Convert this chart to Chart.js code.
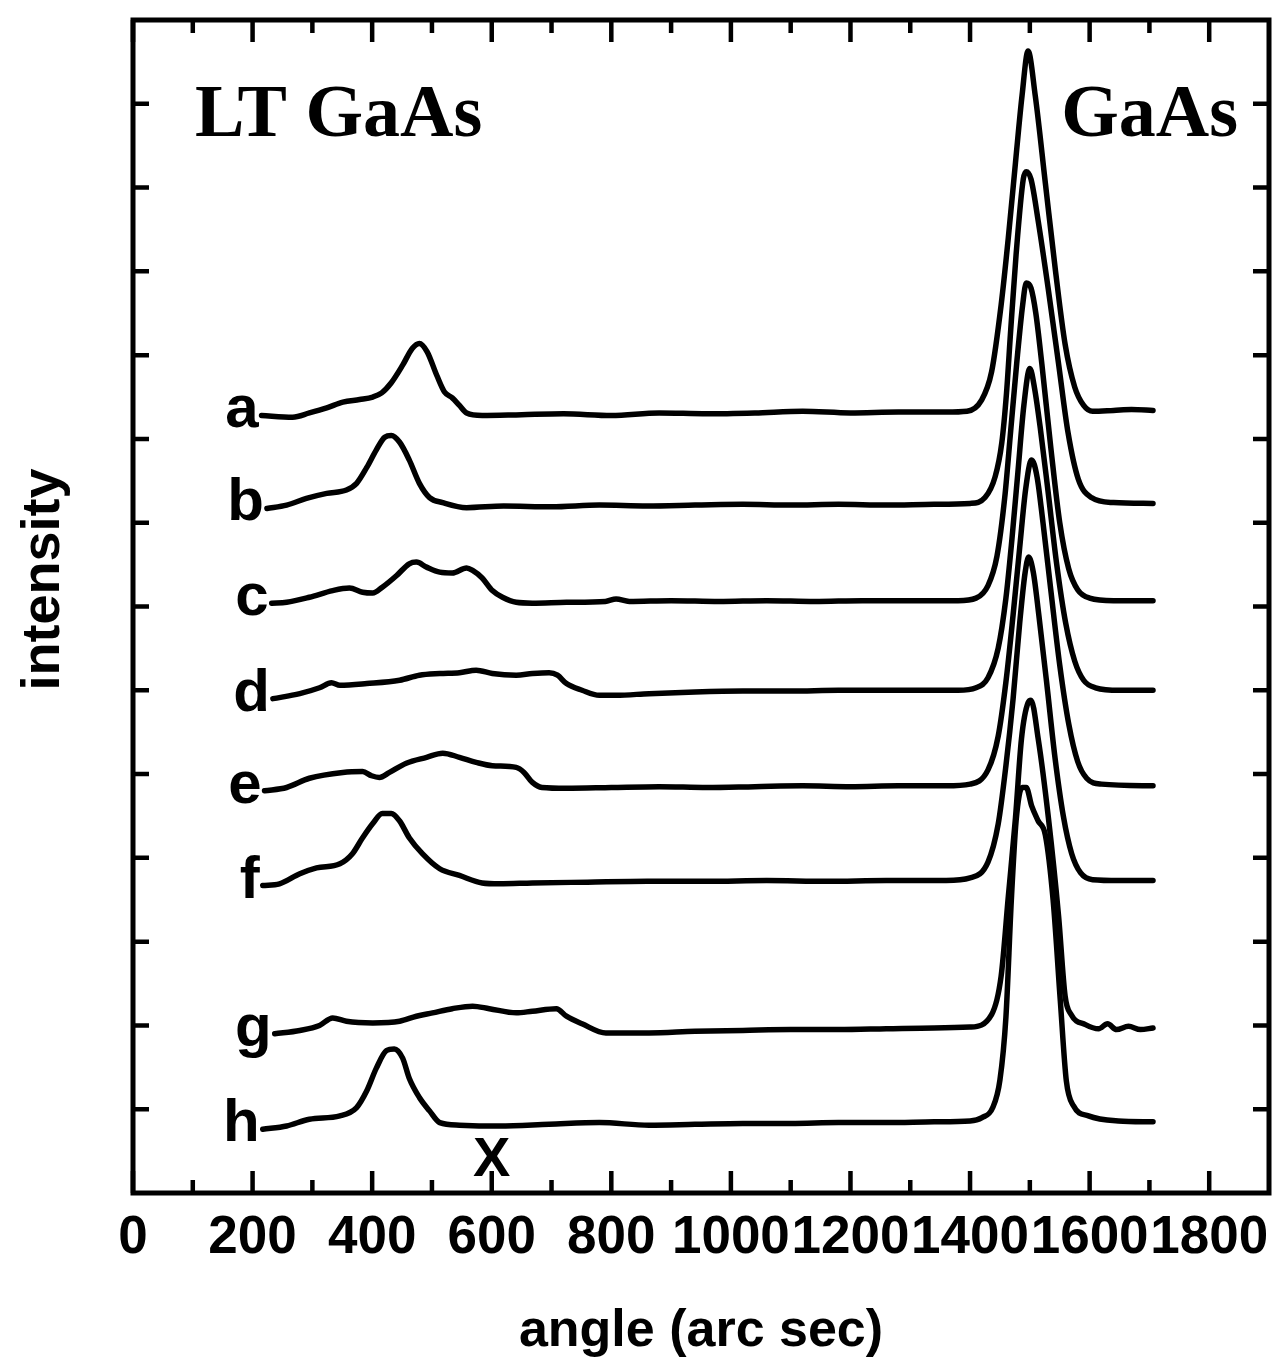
<!DOCTYPE html>
<html>
<head>
<meta charset="utf-8">
<script src="https://cdn.jsdelivr.net/npm/chart.js@4.4.1/dist/chart.umd.min.js"></script>
<style>
  html, body { margin: 0; padding: 0; background: #fff; }
  #wrap { width: 1284px; height: 1372px; position: relative; }
</style>
</head>
<body>
<div id="wrap"><canvas id="xrd"></canvas></div>
<script>
// Stacked X-ray rocking curves, LT GaAs layer peak vs GaAs substrate peak.
// Each curve is [angle (arc sec), intensity offset].

const curveNames = ['a', 'b', 'c', 'd', 'e', 'f', 'g', 'h'];

const curveA = [[215,9.28],[267,9.26],[295,9.31],[324,9.37],[351,9.44],[379,9.47],[401,9.50],[416,9.55],[432,9.67],[451,9.88],[467,10.08],[479,10.14],[492,10.04],[508,9.76],[521,9.56],[534,9.49],[546,9.40],[558,9.31],[584,9.28],[650,9.29],[720,9.30],[800,9.28],[880,9.31],[960,9.30],[1040,9.31],[1120,9.33],[1200,9.31],[1280,9.32],[1360,9.32],[1395,9.33],[1419,9.46],[1436,9.80],[1452,10.6],[1464,11.4],[1476,12.3],[1487,13.1],[1497,13.63],[1509,13.1],[1526,12.05],[1543,11.0],[1559,10.13],[1575,9.62],[1590,9.40],[1605,9.33],[1640,9.34],[1670,9.35],[1706,9.34]];
const curveB = [[224,8.17],[257,8.21],[290,8.29],[324,8.35],[357,8.39],[374,8.47],[391,8.66],[407,8.87],[421,9.02],[432,9.04],[446,8.96],[462,8.75],[479,8.47],[496,8.30],[518,8.24],[558,8.18],[620,8.20],[700,8.19],[780,8.21],[860,8.20],[940,8.21],[1020,8.22],[1100,8.21],[1180,8.22],[1260,8.21],[1340,8.22],[1400,8.23],[1425,8.30],[1442,8.55],[1453,8.95],[1461,9.55],[1468,10.3],[1477,11.2],[1489,12.1],[1494,12.19],[1502,12.1],[1514,11.6],[1531,10.78],[1548,9.9],[1564,9.07],[1581,8.52],[1603,8.30],[1640,8.24],[1706,8.23]];
const curveC = [[232,7.04],[257,7.05],[295,7.11],[334,7.19],[362,7.22],[384,7.17],[401,7.16],[417,7.23],[441,7.37],[462,7.51],[474,7.53],[491,7.47],[513,7.41],[534,7.40],[558,7.46],[568,7.43],[584,7.34],[601,7.19],[618,7.11],[641,7.05],[668,7.04],[725,7.05],[790,7.06],[808,7.09],[830,7.06],[900,7.07],[980,7.06],[1060,7.07],[1140,7.06],[1220,7.07],[1300,7.07],[1380,7.07],[1410,7.10],[1430,7.25],[1445,7.6],[1458,8.3],[1468,9.1],[1478,9.9],[1488,10.6],[1494,10.86],[1502,10.8],[1510,10.5],[1520,9.9],[1535,8.9],[1550,8.0],[1565,7.45],[1580,7.2],[1600,7.1],[1640,7.07],[1706,7.07]];
const curveD = [[234,5.90],[279,5.96],[312,6.03],[332,6.09],[346,6.06],[391,6.08],[446,6.12],[479,6.18],[513,6.20],[546,6.21],[574,6.24],[601,6.20],[641,6.18],[668,6.20],[696,6.21],[710,6.18],[725,6.08],[751,6.00],[780,5.94],[808,5.94],[863,5.96],[940,5.98],[1020,5.99],[1100,5.99],[1180,6.0],[1260,6.0],[1340,6.0],[1380,6.0],[1410,6.03],[1430,6.15],[1447,6.5],[1460,7.1],[1470,7.8],[1480,8.6],[1490,9.4],[1500,9.84],[1508,9.6],[1518,9.1],[1530,8.4],[1545,7.5],[1560,6.8],[1575,6.35],[1590,6.12],[1610,6.03],[1650,6.0],[1706,6.0]];
const curveE = [[220,4.80],[257,4.84],[295,4.95],[351,5.02],[384,5.03],[399,4.98],[412,4.96],[429,5.02],[457,5.13],[491,5.20],[518,5.25],[546,5.20],[574,5.14],[601,5.10],[641,5.08],[654,5.02],[668,4.90],[684,4.84],[725,4.83],[800,4.84],[880,4.85],[960,4.84],[1040,4.85],[1120,4.86],[1200,4.85],[1280,4.86],[1360,4.86],[1400,4.88],[1430,5.05],[1447,5.45],[1460,6.1],[1472,6.9],[1483,7.7],[1493,8.4],[1503,8.75],[1512,8.55],[1522,8.0],[1535,7.2],[1550,6.3],[1565,5.6],[1580,5.15],[1595,4.95],[1620,4.88],[1706,4.86]];
const curveF = [[217,3.67],[245,3.69],[279,3.81],[307,3.88],[346,3.93],[367,4.05],[384,4.24],[401,4.41],[417,4.53],[432,4.53],[446,4.44],[462,4.24],[484,4.05],[513,3.87],[546,3.79],[584,3.70],[613,3.69],[668,3.70],[760,3.71],[860,3.72],[960,3.72],[1060,3.73],[1160,3.72],[1260,3.73],[1360,3.73],[1400,3.76],[1430,3.95],[1447,4.4],[1460,5.1],[1472,5.9],[1483,6.8],[1492,7.4],[1498,7.59],[1506,7.4],[1515,6.9],[1528,6.1],[1542,5.2],[1556,4.5],[1570,4.05],[1585,3.82],[1605,3.74],[1650,3.73],[1706,3.73]];
const curveG = [[237,1.90],[279,1.94],[312,2.00],[334,2.09],[357,2.05],[401,2.03],[446,2.05],[474,2.11],[501,2.15],[534,2.20],[568,2.23],[596,2.20],[641,2.15],[668,2.17],[708,2.20],[725,2.11],[751,2.02],[791,1.91],[863,1.91],[940,1.93],[1020,1.94],[1100,1.95],[1180,1.95],[1260,1.96],[1340,1.97],[1400,1.98],[1436,2.13],[1452,2.59],[1464,3.54],[1476,4.48],[1486,5.42],[1497,5.85],[1502,5.88],[1514,5.42],[1531,4.48],[1548,3.31],[1559,2.35],[1569,2.13],[1593,2.01],[1615,1.96],[1630,2.02],[1645,1.95],[1665,1.99],[1685,1.95],[1706,1.97]];
const curveH = [[217,0.76],[257,0.80],[295,0.88],[346,0.92],[374,1.02],[391,1.22],[407,1.49],[424,1.70],[437,1.72],[451,1.61],[462,1.37],[479,1.14],[496,0.98],[513,0.84],[546,0.81],[613,0.80],[696,0.82],[780,0.84],[863,0.81],[940,0.82],[1020,0.83],[1100,0.83],[1180,0.84],[1260,0.84],[1340,0.85],[1400,0.86],[1420,0.90],[1438,1.02],[1450,1.35],[1460,2.1],[1469,3.49],[1477,4.44],[1487,4.84],[1494,4.84],[1503,4.62],[1514,4.44],[1526,4.27],[1539,3.49],[1551,2.29],[1561,1.34],[1573,1.04],[1598,0.92],[1648,0.86],[1706,0.85]];

const curves = [curveA, curveB, curveC, curveD, curveE, curveF, curveG, curveH];

// axis ticks
const xMajorTicks = [0, 200, 400, 600, 800, 1000, 1200, 1400, 1600, 1800];
const xMinorTicks = [100, 300, 500, 700, 900, 1100, 1300, 1500, 1700];
const yTicks = [1, 2, 3, 4, 5, 6, 7, 8, 9, 10, 11, 12, 13];
const markedAngle = 600; // the "X" under curve h

const SANS = '"Liberation Sans", Arial, sans-serif';
const SERIF = '"Liberation Serif", "Times New Roman", serif';

// box frame, inward ticks on all four sides, and the text annotations
const framePlugin = {
  id: 'frame',
  afterDatasetsDraw(chart) {
    const { ctx, chartArea: a, scales: { x, y } } = chart;
    ctx.save();
    ctx.strokeStyle = '#000';
    ctx.fillStyle = '#000';
    ctx.lineWidth = 5;
    ctx.strokeRect(a.left, a.top, a.right - a.left, a.bottom - a.top);

    ctx.lineWidth = 4.5;
    ctx.beginPath();
    const xTick = (v, len) => {
      const px = x.getPixelForValue(v);
      ctx.moveTo(px, a.bottom); ctx.lineTo(px, a.bottom - len);
      ctx.moveTo(px, a.top); ctx.lineTo(px, a.top + len);
    };
    xMajorTicks.forEach((v) => xTick(v, 22));
    xMinorTicks.forEach((v) => xTick(v, 13));
    yTicks.forEach((v) => {
      const py = y.getPixelForValue(v);
      ctx.moveTo(a.left, py); ctx.lineTo(a.left + 16, py);
      ctx.moveTo(a.right, py); ctx.lineTo(a.right - 16, py);
    });
    ctx.stroke();

    // curve letters, just left of each trace start
    ctx.font = `bold 60px ${SANS}`;
    ctx.textAlign = 'right';
    ctx.textBaseline = 'alphabetic';
    curves.forEach((pts, i) => {
      const px = x.getPixelForValue(pts[0][0]);
      const py = y.getPixelForValue(pts[0][1]);
      ctx.fillText(curveNames[i], px - 3, py + 12);
    });

    // marker on the axis
    ctx.font = `bold 56px ${SANS}`;
    ctx.textAlign = 'center';
    ctx.textBaseline = 'middle';
    ctx.fillText('X', x.getPixelForValue(markedAngle), a.bottom - 32);

    // peak labels
    ctx.font = `bold 74px ${SERIF}`;
    ctx.textBaseline = 'alphabetic';
    ctx.textAlign = 'left';
    ctx.fillText('LT GaAs', a.left + 62, a.top + 116);
    ctx.textAlign = 'right';
    ctx.fillText('GaAs', a.right - 31, a.top + 116);

    // y axis title
    ctx.translate(a.left - 89, (a.top + a.bottom) / 2 - 27);
    ctx.rotate(-Math.PI / 2);
    ctx.font = `bold 54px ${SANS}`;
    ctx.textAlign = 'center';
    ctx.textBaseline = 'middle';
    ctx.fillText('intensity', 0, 0);
    ctx.restore();
  },
};

new Chart(document.getElementById('xrd'), {
  type: 'line',
  data: {
    datasets: curves.map((pts, i) => ({
      label: curveNames[i],
      data: pts.map(([x, y]) => ({ x, y })),
      borderColor: '#000',
      borderWidth: 5.5,
      borderJoinStyle: 'round',
      borderCapStyle: 'round',
      pointRadius: 0,
      cubicInterpolationMode: 'monotone',
      fill: false,
    })),
  },
  options: {
    responsive: true,
    maintainAspectRatio: false,
    animation: false,
    layout: { padding: { left: 133, right: 15, top: 20, bottom: 0 } },
    plugins: { legend: { display: false }, tooltip: { enabled: false } },
    scales: {
      x: {
        type: 'linear',
        min: 0,
        max: 1900,
        grid: { display: false, drawTicks: false },
        border: { display: false },
        afterBuildTicks: (s) => { s.ticks = xMajorTicks.map((value) => ({ value })); },
        ticks: {
          autoSkip: false,
          maxRotation: 0,
          minRotation: 0,
          padding: 14,
          color: '#000',
          font: { family: SANS, size: 53, weight: 'bold' },
          callback: (v) => String(v),
        },
        title: {
          display: true,
          text: 'angle (arc sec)',
          color: '#000',
          font: { family: SANS, size: 52, weight: 'bold' },
          padding: { top: 16, bottom: 9 },
        },
      },
      y: { type: 'linear', min: 0, max: 14, display: false },
    },
  },
  plugins: [framePlugin],
});
</script>
</body>
</html>
